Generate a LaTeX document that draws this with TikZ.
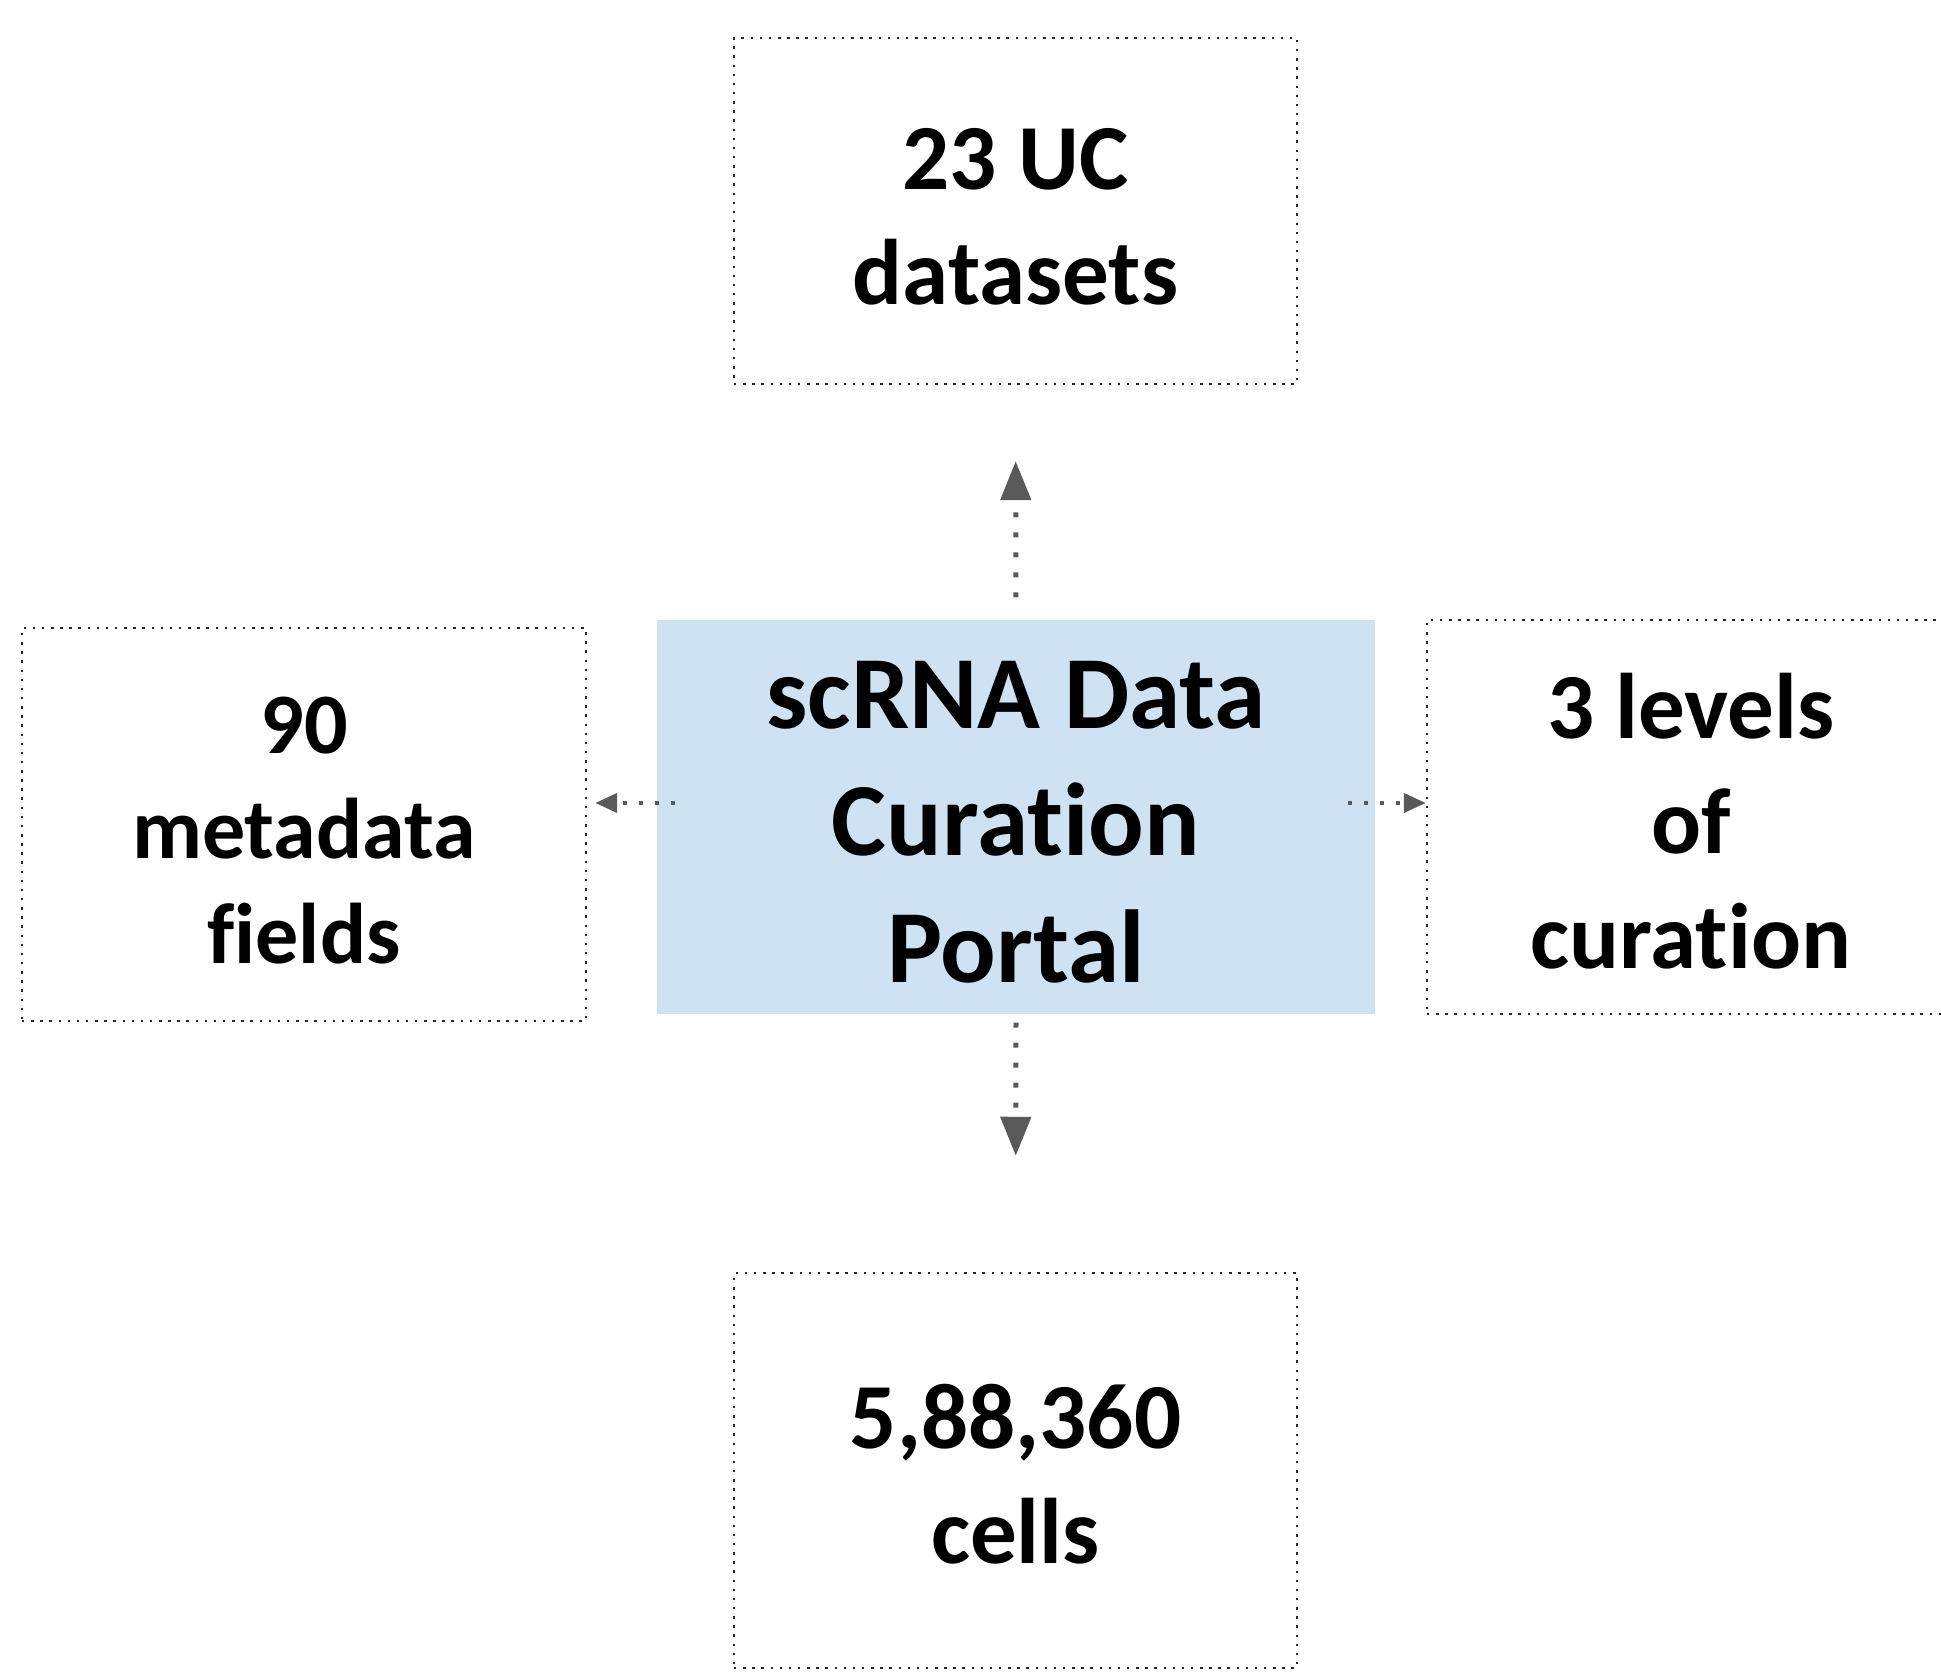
\documentclass[tikz,border=0pt]{standalone}
\usepackage{fontspec}
\setmainfont{Carlito}[Ligatures=NoCommon]
\usetikzlibrary{arrows.meta}
\definecolor{portalblue}{RGB}{207,226,243}
\definecolor{linkgray}{RGB}{89,89,89}
\newcommand{\lift}[1]{\rule{0pt}{#1}}

\begin{document}
\begin{tikzpicture}[
  factbox/.style={draw=black!85, line width=0.7pt, dash pattern=on 0.7pt off 1.9pt,
    inner sep=0pt, align=center, font=\bfseries\fontsize{26.5}{32.7}\selectfont},
  portalbox/.style={fill=portalblue, inner sep=0pt, align=center,
    minimum width=7.18cm, minimum height=3.94cm,
    font=\bfseries\fontsize{29.5}{36.1}\selectfont},
  vlink/.style={draw=linkgray, line width=0.05cm, dash pattern=on 0.05cm off 0.15cm,
    -{Triangle[length=0.39cm, width=0.3cm, fill=linkgray]}},
  hlink/.style={draw=linkgray, line width=0.04cm, dash pattern=on 0.04cm off 0.12cm,
    -{Triangle[length=0.22cm, width=0.19cm, fill=linkgray]}}
]
\useasboundingbox (0,0) rectangle (19.41,16.75);
\clip (0,0) rectangle (19.41,16.75);

% Centre box
\node[portalbox] (portal) at (10.16,8.58) {\lift{22pt}scRNA Data\\Curation\\Portal};

% Outer boxes
\node[factbox, minimum width=5.63cm, minimum height=3.46cm] (datasets) at (10.155,14.64) {\lift{20.8pt}23 UC\\datasets};
\node[factbox, minimum width=5.64cm, minimum height=3.93cm,
  font=\bfseries\fontsize{24.5}{29.9}\selectfont] (metadata) at (3.04,8.505) {\lift{19.5pt}90\\metadata\\fields};
\node[factbox, minimum width=5.28cm, minimum height=3.94cm] (levels) at (16.91,8.58) {\lift{20.8pt}3 levels\\of\\curation};
\node[factbox, minimum width=5.63cm, minimum height=3.95cm] (cells) at (10.155,2.045) {\lift{20.2pt}5,88,360\\cells};

% Arrows
\coordinate (row) at (0,8.72);
\draw[vlink, shorten <=0.22cm, shorten >=0.76cm] (portal.north) -- (datasets.south);
\draw[vlink, shorten <=0.08cm, shorten >=1.16cm] (portal.south) -- (cells.north);
\draw[hlink, shorten <=-0.19cm, shorten >=0.08cm] (portal.west |- row) -- (metadata.east |- row);
\draw[hlink, shorten <=-0.28cm] (portal.east |- row) -- (levels.west |- row);

\end{tikzpicture}
\end{document}
